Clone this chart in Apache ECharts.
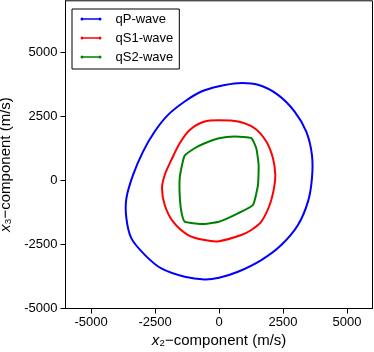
<!DOCTYPE html>
<html lang="en" style="height: 100%">
<head>
  <meta charset="utf-8">
</head>
<body style="height: 100%; margin: 0">
  <div id="container" style="width: 374px; height: 352px"></div>
  <script type="text/javascript" src="https://fastly.jsdelivr.net/npm/echarts@6/dist/echarts.min.js"></script>
  <script type="text/javascript">

    // wave surface points [x2, x3] in m/s (closed curves)
    var qPWave = [
      [3633, 78], [3633, 990], [3411, 1901], [2956, 2682], [2305, 3333], [1523, 3724],
      [742, 3789], [0, 3670], [-690, 3464], [-1341, 3073], [-1992, 2552], [-2513, 1901],
      [-2969, 1120], [-3359, 208], [-3620, -703], [-3620, -1484], [-3424, -2266],
      [-2891, -2917], [-2253, -3438], [-1341, -3763], [-560, -3867], [0, -3800],
      [742, -3568], [1654, -3112], [2435, -2526], [3086, -1745], [3477, -833]
    ];
    var qS1Wave = [
      [2201, 208], [2109, 859], [1849, 1510], [1393, 2031], [742, 2292], [0, 2340],
      [-560, 2292], [-1146, 1966], [-1536, 1445], [-1862, 794], [-2122, 208],
      [-2227, -313], [-2122, -964], [-1797, -1615], [-1211, -2135], [-560, -2331],
      [0, -2375], [872, -2135], [1263, -1940], [1654, -1615], [1979, -964],
      [2148, -313]
    ];
    var qS2Wave = [
      [1549, 599], [1458, 1250], [1263, 1641], [612, 1706], [0, 1641], [-560, 1445],
      [-951, 1250], [-1341, 963], [-1445, 599], [-1536, 78], [-1536, -573],
      [-1471, -1224], [-1341, -1615], [-690, -1706], [0, -1615], [742, -1289],
      [1328, -964], [1523, -182]
    ];
    var tickValues = [-5000, -2500, 0, 2500, 5000];

    var font = "'Liberation Sans', Arial, sans-serif";
    // line with a dot at each end, like the legend handles
    var handle = 'path://M0,1.5 a1.5,1.5 0 1,1 3,0 a1.5,1.5 0 1,1 -3,0 Z M18,1.5 a1.5,1.5 0 1,1 3,0 a1.5,1.5 0 1,1 -3,0 Z M1.5,0.8 L19.5,0.8 L19.5,2.2 L1.5,2.2 Z';

    var dom = document.getElementById('container');
    var myChart = echarts.init(dom, null, { renderer: 'canvas' });

    function axis(name, gap, extra) {
      return Object.assign({
        type: 'value',
        name: name,
        nameLocation: 'middle',
        nameGap: gap,
        nameTextStyle: {
          color: '#000',
          fontFamily: font,
          fontSize: 15,
          rich: {
            i: { fontStyle: 'italic', fontSize: 15, fontFamily: font, color: '#000' },
            n: { fontSize: 15, fontFamily: font, color: '#000' }
          }
        },
        axisLine: { show: true, onZero: false, lineStyle: { color: '#000', width: 1 } },
        axisTick: { show: true, inside: false, length: 5, customValues: tickValues, lineStyle: { color: '#000' } },
        splitLine: { show: false }
      }, extra);
    }

    function label(margin) {
      return {
        customValues: tickValues, color: '#000', fontSize: 13, fontFamily: font, margin: margin,
        formatter: function (v) { return String(v); }
      };
    }

    // closed smooth curve through all points of a series, placed with the axes
    function curve(name, pts, color, smooth) {
      return {
        name: name,
        type: 'custom',
        data: pts,
        itemStyle: { color: color },
        renderItem: function (params, api) {
          if (params.dataIndex !== 0) return;
          return {
            type: 'polygon',
            shape: { points: pts.map(function (p) { return api.coord(p); }), smooth: smooth },
            style: { fill: 'none', stroke: color, lineWidth: 2 }
          };
        }
      };
    }

    var option = {
      animation: false,
      backgroundColor: '#fff',
      grid: {
        left: 65.5, right: 1.5, top: 0.8, bottom: 43.5,
        outerBoundsMode: 'none',
        containLabel: false,
        show: true, borderColor: '#000', borderWidth: 1
      },
      legend: {
        orient: 'vertical',
        left: 72, top: 9,
        padding: [3.5, 6, 5.5, 8.5],
        borderColor: '#000', borderWidth: 1,
        itemWidth: 21, itemHeight: 3, itemGap: 6,
        formatter: '{t|{name}}',
        textStyle: {
          fontSize: 13, fontFamily: font, color: '#000',
          rich: { t: { fontSize: 13, fontFamily: font, color: '#000', padding: [0, 0, 0, 9] } }
        },
        data: [
          { name: 'qP-wave', icon: handle },
          { name: 'qS1-wave', icon: handle },
          { name: 'qS2-wave', icon: handle }
        ]
      },
      xAxis: axis('{i|x}{n|₂−component (m/s)}', 22, {
        min: -6000, max: 6000, axisLabel: label(7)
      }),
      yAxis: axis('{i|x}{n|₃−component (m/s)}', 46, {
        min: -5000, max: 7000, axisLabel: label(8)
      }),
      series: [
        curve('qP-wave', qPWave, '#0000ff', 0.3),
        curve('qS1-wave', qS1Wave, '#ff0000', 0.3),
        curve('qS2-wave', qS2Wave, '#008000', 0.15)
      ]
    };
    option.yAxis.nameTextStyle.padding = [0, 20, 0, 0];

    myChart.setOption(option);
    window.addEventListener('resize', myChart.resize);

  </script>
</body>
</html>
